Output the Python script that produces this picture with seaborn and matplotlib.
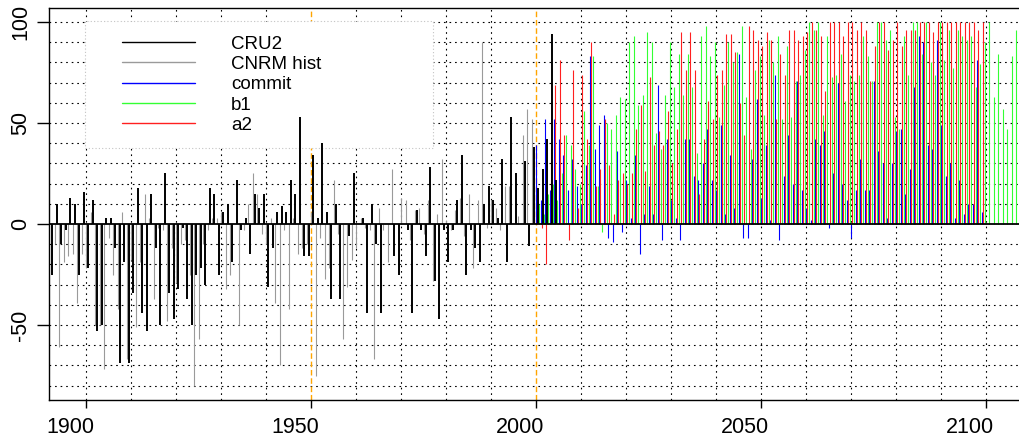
import numpy as np
import pandas as pd
import matplotlib
matplotlib.use("Agg")
import matplotlib.pyplot as plt
from matplotlib.lines import Line2D
from matplotlib.patches import Rectangle
from matplotlib.transforms import ScaledTranslation
import seaborn as sns
import seaborn.objects as so

# ---------------- data ----------------
cru_years = np.arange(1892, 2005)
cru_vals = [
    -25, 10, -10, -3, 13, 10, -25, 16, -22, 12,
    -53, -50, 3, 3, -12, -69, -19, -69, -34, 18,
    -44, -53, 15, -12, -50, 25, -34, -47, -32, -2,
    -37, -50, -25, -22, -30, 18, 15, -25, 6, 10,
    -19, 22, -3, 3, -15, 15, 8, 15, -31, -12,
    6, 9, 6, 22, 15, 53, -16, -16, 34, 3,
    40, 6, -37, 10, -37, 0, -6, 25, 0, 3,
    -44, 10, -10, -44, 0, 0, -16, -25, 0, -3,
    -44, 7, -3, -16, 28, -28, -47, -3, -19, -3,
    12, 34, -25, -3, -12, -19, 10, 19, 12, 3,
    32, -19, 53, 25, 0, 31, -11, 38, 18, 27,
    42, 94, 22,
]

cnrm_years = np.arange(1892, 2000)
cnrm_vals = [
    -10, -61, -19, -16, -15, -39, -15, -22, 6, -50,
    -50, -72, -7, -25, -42, 6, -67, -18, -51, -19,
    15, 3, -37, -2, -3, -48, -12, -29, -10, -8,
    -25, -80, -57, -10, -3, 3, 3, 6, -32, -25,
    0, -50, -3, 10, 25, 15, -5, -10, 3, -39,
    -70, -3, -42, 3, -15, -12, -10, 6, -75, -7,
    -27, -22, 22, -5, -57, -31, -18, -12, 3, -2,
    -3, -67, 8, -3, -19, 27, 0, 13, 12, -8,
    7, 8, -5, 12, -28, 5, 32, 2, -3, 7,
    13, -6, 15, -22, 12, 90, -2, 12, 8, -3,
    19, 19, 0, 4, 44, 57, 52, 20,
]

commit_years = np.arange(2000, 2100)
commit_vals = [
    39, 12, 52, 17, 52, 42, 34, 17, 32, 19,
    10, 29, 83, 37, 49, 54, -7, -9, 36, -4,
    22, 3, 34, -15, 5, 19, 5, 69, -8, 42,
    12, 3, -8, 42, 42, 24, 22, 30, 47, 22,
    17, 49, 5, 34, 8, 84, -7, -7, 32, 62,
    13, 39, 2, 74, -8, 24, 44, 20, 71, 17,
    8, 2, 42, 39, 46, -2, 25, 70, 20, 12,
    -7, 17, 32, 17, 17, 71, 36, 30, 3, 30,
    46, 47, 15, 27, 68, 93, 90, 39, 37, 91,
    49, 24, 30, 3, 22, 5, 10, 10, 81, 6,
]

b1_years = np.arange(2000, 2107)
b1_vals = [
    10, 5, 15, 20, 12, 25, 44, 39, 27, 20,
    56, 39, 83, 19, -4, 50, 47, 54, 63, 62,
    90, 93, 59, 64, 95, 90, 45, 37, 64, 90,
    68, 84, 64, 84, 68, 35, 93, 98, 83, 90,
    53, 69, 90, 80, 85, 98, 63, 37, 76, 83,
    54, 91, 80, 93, 52, 88, 53, 71, 74, 86,
    100, 96, 100, 54, 93, 73, 74, 84, 61, 74,
    71, 74, 93, 83, 71, 100, 100, 91, 96, 53,
    47, 93, 74, 100, 100, 84, 100, 80, 74, 100,
    81, 96, 77, 96, 93, 91, 93, 68, 79, 90,
    100, 63, 84, 57, 47, 83, 96,
]

a2_years = np.arange(2000, 2100)
a2_vals = [
    5, -2, -20, 37, 69, 81, 44, -8, 76, 8,
    74, 42, 90, 19, 27, 52, 29, 5, 22, 25,
    20, 25, 47, 59, 26, 73, 39, 46, 39, 56,
    30, 47, 95, 76, 95, 76, 15, 42, 61, 52,
    74, 76, 94, 94, 85, 60, 44, 98, 96, 91,
    88, 95, 91, 52, 84, 74, 96, 96, 91, 93,
    95, 100, 96, 93, 66, 100, 100, 100, 93, 100,
    100, 96, 100, 96, 71, 88, 100, 100, 86, 91,
    100, 88, 96, 96, 96, 100, 100, 100, 95, 100,
    100, 100, 100, 100, 100, 100, 100, 100, 96, 100,
]

series_names = ["CRU2", "CNRM hist", "commit", "b1", "a2"]
x_ticks = [1900, 1950, 2000, 2050, 2100]
y_ticks = [-50, 0, 50, 100]

# ---------------- style ----------------
sns.set_style("white")
plt.rcParams["font.family"] = ["Liberation Sans", "DejaVu Sans"]

colors = {"CRU2": "#000000", "CNRM hist": "#9a9a9a", "commit": "#0000ff",
          "b1": "#33ff33", "a2": "#ff2020"}
widths = {"CRU2": 1.4, "CNRM hist": 0.8, "commit": 0.8, "b1": 0.8, "a2": 0.8}
offsets = {"CRU2": 0.55, "CNRM hist": 1.05, "commit": 0.0, "b1": 0.67, "a2": 0.33}


def frame(years, vals, name):
    years = np.asarray(years, dtype=float)
    return pd.DataFrame({"x": years + offsets[name], "lo": 0.0,
                         "hi": np.asarray(vals, dtype=float)})


data = {
    "CRU2": frame(cru_years, cru_vals, "CRU2"),
    "CNRM hist": frame(cnrm_years, cnrm_vals, "CNRM hist"),
    "commit": frame(commit_years, commit_vals, "commit"),
    "b1": frame(b1_years, b1_vals, "b1"),
    "a2": frame(a2_years, a2_vals, "a2"),
}

W, H = 1019, 443
fig = plt.figure(figsize=(W / 100, H / 100), dpi=100)
ax = fig.add_axes([49 / W, 1 - 400 / H, 976 / W, 392 / H])

p = so.Plot()
for name in ["CNRM hist", "commit", "b1", "a2", "CRU2"]:
    p = p.add(so.Range(color=colors[name], linewidth=widths[name]),
              data=data[name], x="x", ymin="lo", ymax="hi")
p.on(ax).plot()

# ---------------- axes cosmetics ----------------
ax.set_facecolor("white")
ax.set_xlabel("")
ax.set_ylabel("")
x_lo = 1900 - 37 / 4.5
x_hi = 1900 + (1025 - 86) / 4.5
ax.set_xlim(x_lo, x_hi)
ax.set_ylim((224 - 400) / 2.02, (224 - 8) / 2.02)

for c in ax.collections:
    c.set_zorder(3)
    c.set_capstyle("butt")

# grid
dot = (0, (1.5, 3.5))
for yv in range(-80, 101, 10):
    if yv != 0:
        ax.axhline(yv, color="black", lw=0.8, ls=dot, zorder=1)
for xv in range(1900, 2101, 10):
    if xv not in (1950, 2000):
        ax.axvline(xv, color="black", lw=0.8, ls=dot, zorder=1)

ax.axvline(1950, color="#ffa500", lw=1.0, ls=(0, (4, 2)), zorder=1.2)
ax.axvline(2000, color="#ffa500", lw=1.0, ls=(0, (4, 2)), zorder=1.2)

# legend box
ax.add_patch(Rectangle((1899.8, 37.4), 1977.1 - 1899.8, 100.3 - 37.4,
                       facecolor="white", edgecolor="#c4c4c4", lw=0.8,
                       ls=(0, (1, 2)), zorder=1.5))

ax.axhline(0, color="black", lw=1.3, zorder=4)

# x ticks: marks at the years, labels drawn slightly to the left (as in the original)
ax.set_xticks(x_ticks)
ax.xaxis.set_minor_locator(matplotlib.ticker.NullLocator())
ax.tick_params(axis="x", which="major", bottom=True, length=6, width=1,
               direction="out", color="black", labelbottom=False)
label_tr = ax.get_xaxis_transform() + ScaledTranslation(-16 / 100, -17 / 100,
                                                        fig.dpi_scale_trans)
for t in x_ticks:
    ax.text(t, 0, str(t), transform=label_tr, ha="center", va="top",
            fontsize=15.5, color="black", clip_on=False)

ax.set_yticks(y_ticks, [str(t) for t in y_ticks])
ax.yaxis.set_minor_locator(matplotlib.ticker.NullLocator())
ax.tick_params(axis="y", which="major", left=True, length=9, width=1, pad=4,
               labelsize=15.5, direction="out", color="black",
               labelcolor="black")
for lab in ax.get_yticklabels():
    lab.set_rotation(90)
    lab.set_va("center")
    lab.set_ha("right")

for side in ["left", "top", "bottom"]:
    ax.spines[side].set_visible(True)
    ax.spines[side].set_color("black")
    ax.spines[side].set_linewidth(1.0)
ax.spines["right"].set_visible(False)
ax.grid(False)

handles = [Line2D([], [], color=colors[n], lw=1.0) for n in series_names]
leg = ax.legend(handles, series_names, loc="upper left",
                bbox_to_anchor=(122 / W, 1 - 35.5 / H),
                bbox_transform=fig.transFigure, frameon=False,
                fontsize=13.5, handlelength=3.9, handletextpad=1.9,
                labelspacing=0.17, borderpad=0, borderaxespad=0)
for t in leg.get_texts():
    t.set_color("black")
leg.set_zorder(6)

fig.savefig("out.png", dpi=100)
